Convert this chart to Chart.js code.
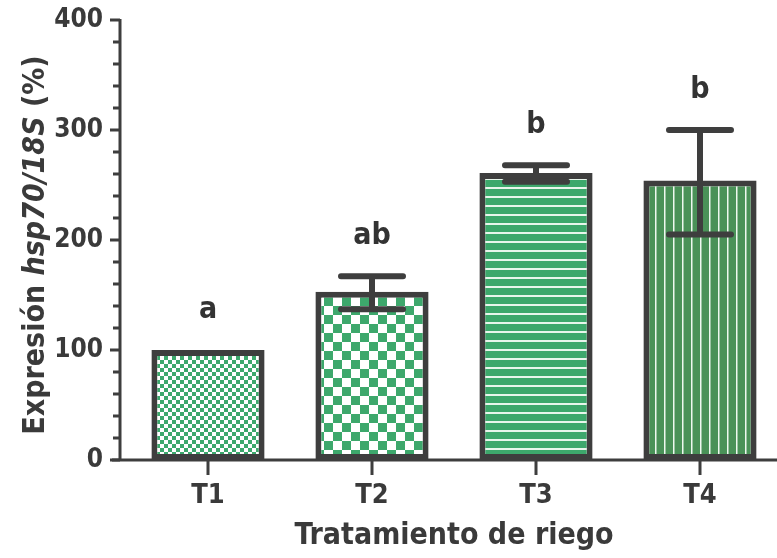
<!DOCTYPE html>
<html>
<head>
<meta charset="utf-8">
<script src="https://cdn.jsdelivr.net/npm/chart.js@4"></script>
<style>
  html, body { margin: 0; padding: 0; background: #fff; overflow: hidden; }
  #wrap { width: 777px; height: 558px; overflow: hidden; }
</style>
</head>
<body>
<div id="wrap"><canvas id="riegoCanvas" width="782" height="558"></canvas></div>
<script>
const categorias = ['T1', 'T2', 'T3', 'T4'];
const expresion = [100, 153, 261, 254];
const errorAlto = [100, 167, 268, 300];
const errorBajo = [100, 137, 253, 205];
const letras = ['a', 'ab', 'b', 'b'];
const ticksY = [0, 100, 200, 300, 400];

const gris = '#3e3e3e';
const fuente = "'Liberation Sans Narrow', 'DejaVu Sans Condensed', 'Liberation Sans', sans-serif";

function patron(tipo) {
    const c = document.createElement('canvas');
    const g = c.getContext('2d');
    if (tipo === 'cuadros') {
        const s = 4;
        c.width = c.height = s * 2;
        g.fillStyle = '#fff'; g.fillRect(0, 0, s * 2, s * 2);
        g.fillStyle = '#3da86c';
        g.fillRect(0, 0, s, s); g.fillRect(s, s, s, s);
    } else if (tipo === 'cuadrosGrandes') {
        const s = 9;
        c.width = c.height = s * 2;
        g.fillStyle = '#fff'; g.fillRect(0, 0, s * 2, s * 2);
        g.fillStyle = '#3da86c';
        g.fillRect(s, 0, s, s); g.fillRect(0, s, s, s);
    } else if (tipo === 'horizontal') {
        c.width = 10; c.height = 9;
        g.fillStyle = '#3da86c'; g.fillRect(0, 0, 10, 9);
        g.fillStyle = '#e8f6ec'; g.fillRect(0, 7, 10, 2);
    } else {
        c.width = 9; c.height = 10;
        g.fillStyle = '#4a9258'; g.fillRect(0, 0, 9, 10);
        g.fillStyle = '#eef8ef'; g.fillRect(7, 0, 1.5, 10);
    }
    return g.createPattern(c, 'repeat');
}

const extras = {
    id: 'extras',
    afterDatasetsDraw(chart) {
        const ctx = chart.ctx;
        const y = chart.scales.y;
        const meta = chart.getDatasetMeta(0);
        ctx.save();
        ctx.strokeStyle = gris;
        ctx.lineCap = 'round';
        // barras de error
        meta.data.forEach((bar, i) => {
            if (errorAlto[i] === errorBajo[i]) return;
            const cx = bar.x;
            const yh = y.getPixelForValue(errorAlto[i]);
            const yl = y.getPixelForValue(errorBajo[i]);
            ctx.lineWidth = 6;
            ctx.beginPath();
            ctx.moveTo(cx, yh); ctx.lineTo(cx, yl);
            ctx.moveTo(cx - 31, yh); ctx.lineTo(cx + 31, yh);
            ctx.moveTo(cx - 31, yl); ctx.lineTo(cx + 31, yl);
            ctx.stroke();
        });
        // letras de significancia
        ctx.fillStyle = '#333';
        ctx.font = 'bold 30px ' + fuente;
        ctx.textAlign = 'center';
        ctx.textBaseline = 'alphabetic';
        meta.data.forEach((bar, i) => {
            const top = y.getPixelForValue(errorAlto[i]);
            ctx.fillText(letras[i], bar.x, top - 32);
        });
        ctx.restore();
    },
    afterDraw(chart) {
        const ctx = chart.ctx;
        const y = chart.scales.y, x = chart.scales.x;
        const area = chart.chartArea;
        const ejeX = area.left - 6;
        ctx.save();
        ctx.strokeStyle = gris;
        ctx.lineCap = 'butt';
        // eje y y marcas
        ctx.lineWidth = 3;
        ctx.beginPath();
        ctx.moveTo(ejeX, y.getPixelForValue(400) - 1);
        ctx.lineTo(ejeX, y.getPixelForValue(0));
        for (let v = 0; v <= 400; v += 20) {
            const py = y.getPixelForValue(v);
            const largo = v % 100 === 0 ? 10 : 7;
            ctx.moveTo(ejeX - largo, py);
            ctx.lineTo(ejeX, py);
        }
        ctx.stroke();
        // eje x y marcas
        ctx.beginPath();
        const y0 = y.getPixelForValue(0);
        ctx.moveTo(ejeX - 8, y0);
        ctx.lineTo(chart.width, y0);
        categorias.forEach((c, i) => {
            const px = x.getPixelForValue(i);
            ctx.moveTo(px, y0);
            ctx.lineTo(px, y0 + 15);
        });
        ctx.stroke();
        // titulo eje y con parte en cursiva
        ctx.fillStyle = '#3a3a3a';
        ctx.translate(36, 245);
        ctx.rotate(-Math.PI / 2);
        const partes = [
            ['bold ', 'Expresión '],
            ['italic bold ', 'hsp70/18S'],
            ['bold ', ' (%)']
        ];
        const tam = '30px ';
        let total = 0;
        partes.forEach(p => { ctx.font = p[0] + tam + fuente; total += ctx.measureText(p[1]).width; });
        let pos = -total / 2;
        ctx.textBaseline = 'middle';
        ctx.textAlign = 'left';
        partes.forEach(p => {
            ctx.font = p[0] + tam + fuente;
            ctx.fillText(p[1], pos, 0);
            pos += ctx.measureText(p[1]).width;
        });
        ctx.restore();
    }
};

const ctx = document.getElementById('riegoCanvas').getContext('2d');
new Chart(ctx, {
    type: 'bar',
    data: {
        labels: categorias,
        datasets: [{
            label: 'Expresión hsp70/18S',
            data: expresion,
            backgroundColor: [patron('cuadros'), patron('cuadrosGrandes'), patron('horizontal'), patron('vertical')],
            borderColor: gris,
            borderWidth: 6,
            borderSkipped: false,
            categoryPercentage: 1,
            barPercentage: 0.69
        }]
    },
    plugins: [extras],
    options: {
        responsive: false,
        animation: false,
        layout: { padding: { top: 20, right: 0, left: 0, bottom: 0 } },
        plugins: {
            legend: { display: false },
            tooltip: { enabled: false }
        },
        scales: {
            y: {
                min: 0,
                max: 400,
                afterBuildTicks: s => { s.ticks = ticksY.map(v => ({ value: v })); },
                afterFit: s => { s.width = 126; },
                border: { display: false },
                grid: { display: false, tickLength: 19 },
                ticks: {
                    padding: 4,
                    color: '#3a3a3a',
                    font: { family: fuente, size: 26, weight: 'bold' }
                }
            },
            x: {
                afterFit: s => { s.height = 98; },
                border: { display: false },
                grid: { display: false },
                ticks: {
                    padding: 12,
                    color: '#3a3a3a',
                    font: { family: fuente, size: 27, weight: 'bold' }
                },
                title: {
                    display: true,
                    text: 'Tratamiento de riego',
                    color: '#3a3a3a',
                    padding: { top: 14 },
                    font: { family: fuente, size: 30, weight: 'bold' }
                }
            }
        }
    }
});
</script>
</body>
</html>
